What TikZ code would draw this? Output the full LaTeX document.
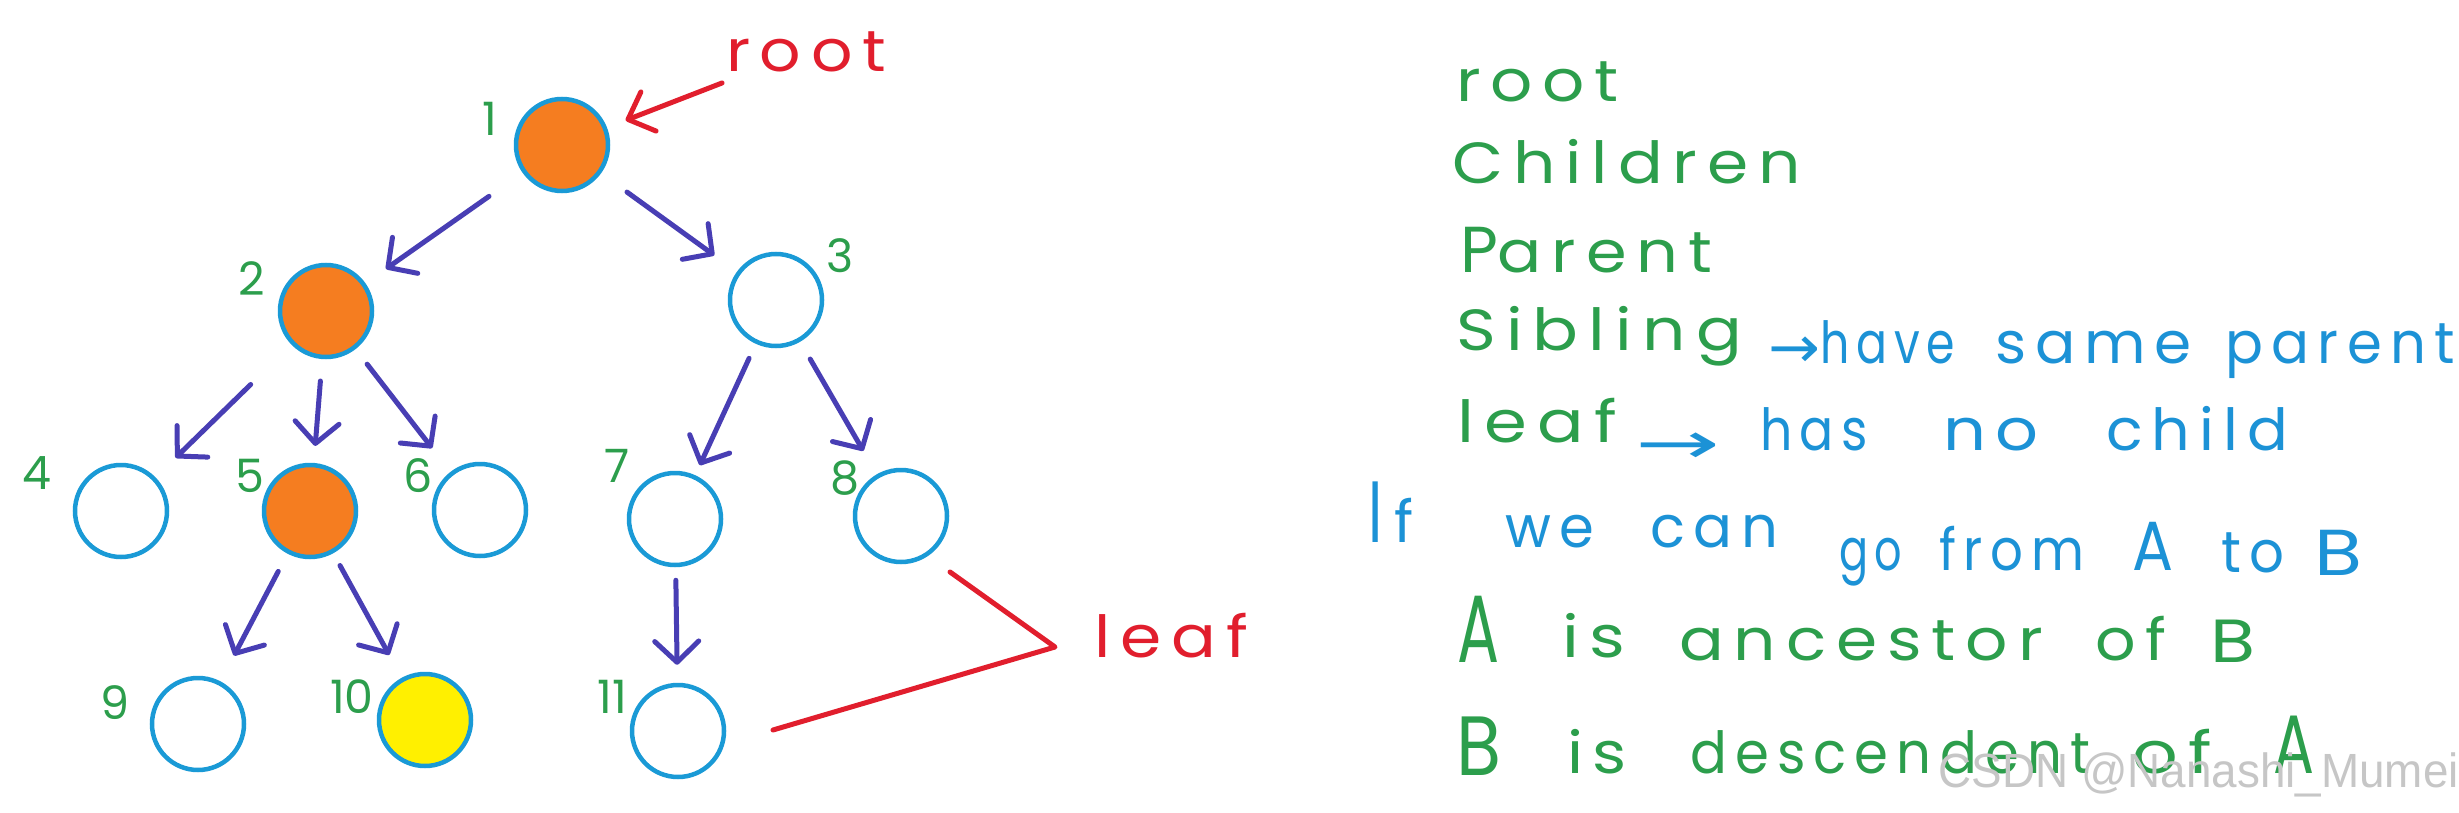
\documentclass[tikz,border=0pt]{standalone}
\usepackage{fontspec}
\usepackage{graphicx}
\usetikzlibrary{shapes.geometric,arrows.meta}
\newfontfamily\hand[LetterSpace=15]{Poppins}
\newfontfamily\numfont{Poppins}
\newfontfamily\arrowfont{DejaVu Sans}
\newfontfamily\wmfont{Liberation Sans}
\definecolor{nodeblue}{RGB}{26,154,214}
\definecolor{nodeorange}{RGB}{245,125,32}
\definecolor{nodeyellow}{RGB}{255,240,0}
\definecolor{arrowc}{RGB}{72,62,180}
\definecolor{redc}{RGB}{225,30,45}
\definecolor{tgreen}{RGB}{44,158,76}
\definecolor{tblue}{RGB}{28,146,214}
\newcommand{\fitw}[2]{\resizebox{#1pt}{\height}{#2}}
\newcommand{\hsz}[1]{\fontsize{#1}{#1}\selectfont}
\newcommand{\capx}[2]{\scalebox{1}[#1]{#2}}
\tikzset{
  vtx/.style={ellipse, draw=nodeblue, line width=4.5pt, minimum width=92pt, minimum height=92pt, inner sep=0pt},
  arr/.style={draw=arrowc, line width=5pt, line cap=round, -{Straight Barb[length=21pt,width=44pt,round]}},
  redarr/.style={draw=redc, line width=5pt, line cap=round, -{Straight Barb[length=22pt,width=42pt,round]}},
  redline/.style={draw=redc, line width=5pt, line cap=round, line join=round},
  num/.style={text=tgreen, font=\numfont\hsz{46}, inner sep=0pt, anchor=center},
  hw/.style={anchor=base west, inner sep=0pt, outer sep=0pt},
  gtxt/.style={hw, text=tgreen, font=\hand\hsz{58}},
  btxt/.style={hw, text=tblue, font=\hand\hsz{58}},
  rtxt/.style={hw, text=redc, font=\hand\hsz{58}},
}
\begin{document}
\begin{tikzpicture}[x=1pt, y=-1pt]
\path[fill=white] (0,0) rectangle (2459,813);
\useasboundingbox (0,0) rectangle (2459,813);

% tree nodes
\node[vtx, fill=nodeorange] (n1) at (562,145) {};
\node[vtx, fill=nodeorange] (n2) at (326,311) {};
\node[vtx] (n3) at (776,300) {};
\node[vtx] (n4) at (121,511) {};
\node[vtx, fill=nodeorange] (n5) at (310,511) {};
\node[vtx] (n6) at (480,510) {};
\node[vtx] (n7) at (675,519) {};
\node[vtx] (n8) at (901,516) {};
\node[vtx] (n9) at (198,724) {};
\node[vtx, fill=nodeyellow] (n10) at (425,720) {};
\node[vtx] (n11) at (678,731) {};

% numbers
\node[num] (l1) at (490,119) {1};
\node[num] (l2) at (252,279) {2};
\node[num] (l3) at (840,256) {3};
\node[num] (l4) at (37,473) {4};
\node[num] (l5) at (250,476) {5};
\node[num] (l6) at (418,476) {6};
\node[num] (l7) at (617,466) {7};
\node[num] (l8) at (845,478) {8};
\node[num] (l9) at (115,703) {9};
\node[num] (l10) at (352,697) {10};
\node[num] (l11) at (612,697) {11};

% edges
\draw[arr, shorten <=41pt, shorten >=25pt] (n1) -- (n2);
\draw[arr, shorten <=32pt, shorten >=28pt] (n1) -- (n3);
\draw[arr, shorten <=57pt, shorten >=28pt] (n2) -- (n4);
\draw[arr, shorten <=22pt, shorten >=17pt] (n2) -- (n5);
\draw[arr, shorten <=19pt, shorten >=30pt] (n2) -- (n6);
\draw[arr, shorten <=16pt, shorten >=11pt] (n3) -- (n7);
\draw[arr, shorten <=20pt, shorten >=27pt] (n3) -- (n8);
\draw[arr, shorten <=20pt, shorten >=29pt] (n5) -- (n9);
\draw[arr, shorten <=14pt, shorten >=26pt] (n5) -- (n10);
\draw[arr, shorten <=13pt, shorten >=18pt] (n7) -- (n11);

% red annotations
\node[rtxt] (rootlbl) at (726,72) {\fitw{160}{root}};
\coordinate (rs) at (722,83);
\draw[redarr, shorten >=20pt] (rs) -- (n1);
\node[rtxt] (leaflbl) at (1094,657) {\fitw{154}{leaf}};
\coordinate (lfa) at (950,572);
\coordinate (lfv) at (1055,647);
\coordinate (lfb) at (773,730);
\draw[redline] (lfa) -- (lfv) -- (lfb);

% right column
\node[gtxt] (wroot) at (1456,102) {\fitw{163}{root}};
\node[gtxt] (wchildren) at (1452,184) {\fitw{349}{Children}};
\node[gtxt] (wparent) at (1460,272) {\fitw{252}{\capx{1.12}{P}arent}};
\node[gtxt] (wsibling) at (1456,350) {\fitw{286}{Sibling}};
\node[btxt] (warr1) at (1768,367) {\fitw{52}{\arrowfont →}};
\node[btxt] (whave) at (1820,363) {\fitw{135}{have}};
\node[btxt] (wsame) at (1995,363) {\fitw{197}{same}};
\node[btxt] (wparent2) at (2225,363) {\fitw{230}{parent}};
\node[gtxt] (wleaf) at (1457,442) {\fitw{160}{leaf}};
\node[btxt] (warr2) at (1635,463) {\fitw{85}{\arrowfont →}};
\node[btxt] (whas) at (1760,450) {\fitw{108}{has}};
\node[btxt] (wno) at (1943,450) {\fitw{96}{no}};
\node[btxt] (wchild) at (2106,450) {\fitw{182}{child}};

\node[btxt] (wif) at (1368,542) {\capx{1.5}{I}\hspace{12pt}f};
\node[btxt] (wwe) at (1505,547) {\fitw{89}{we}};
\node[btxt] (wcan) at (1650,547) {\fitw{128}{can}};
\node[btxt] (wgo) at (1839,570) {\fitw{63}{go}};
\node[btxt] (wfrom) at (1939,570) {\fitw{145}{from}};
\node[btxt] (wa1) at (2132,570) {\fitw{41}{\capx{1.2}{A}}};
\node[btxt] (wto) at (2221,572) {\fitw{63}{to}};
\node[btxt] (wb1) at (2314,575) {\fitw{48}{\capx{1.12}{B}}};

\node[gtxt] (wa2) at (1457,662) {\fitw{42}{\capx{1.65}{A}}};
\node[gtxt] (wis2) at (1562,657) {\fitw{63}{is}};
\node[gtxt] (wanc) at (1679,660) {\fitw{364}{ancestor}};
\node[gtxt] (wof2) at (2095,660) {\fitw{71}{of}};
\node[gtxt] (wb2) at (2210,662) {\fitw{45}{\capx{1.05}{B}}};

\node[gtxt] (wb3) at (1456,775) {\fitw{45}{\capx{1.45}{B}}};
\node[gtxt] (wis3) at (1567,773) {\fitw{60}{is}};
\node[gtxt] (wdesc) at (1690,773) {\fitw{400}{descendent}};
\node[gtxt] (wof3) at (2132,773) {\fitw{80}{of}};
\node[gtxt] (wa3) at (2273,773) {\fitw{41}{\capx{1.43}{A}}};

% watermark
\node[anchor=base east, inner sep=0pt, text=gray!45, font=\wmfont\hsz{48}] (wm) at (2459,787) {\fitw{520}{CSDN @Nanashi\_Mumei}};
\end{tikzpicture}
\end{document}
